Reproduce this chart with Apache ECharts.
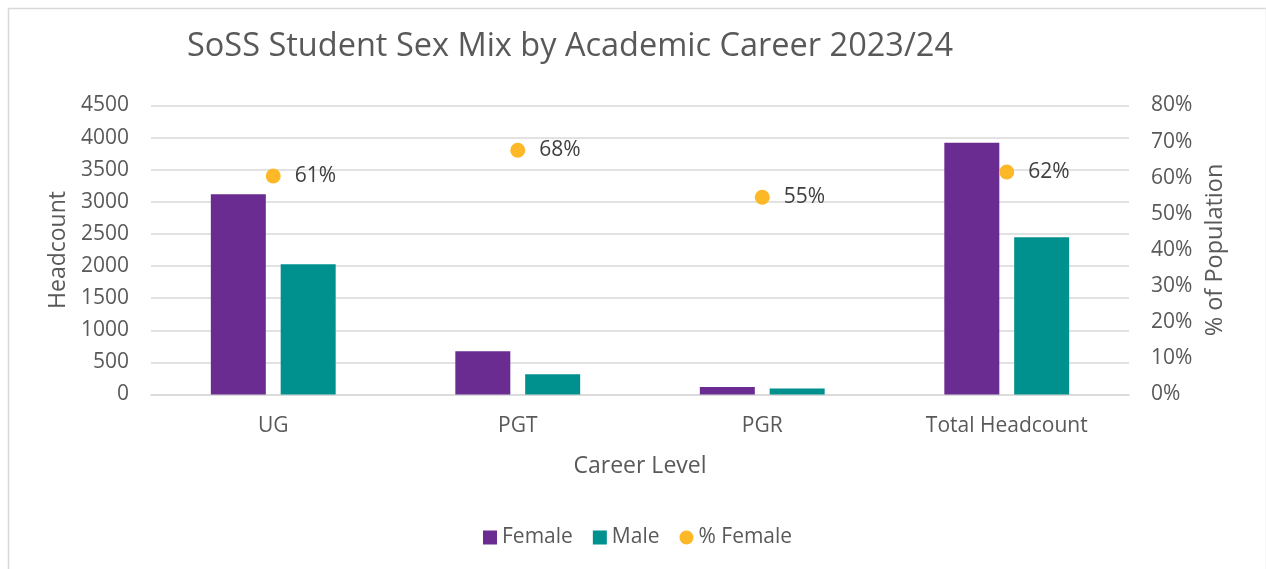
<!DOCTYPE html>
<html>
<head>
<meta charset="utf-8">
<script src="https://cdn.jsdelivr.net/npm/echarts@6/dist/echarts.min.js"></script>
<style>
html,body{margin:0;padding:0;background:#fff;}
#chart{width:1266px;height:569px;}
</style>
</head>
<body>
<div id="chart"></div>
<script>
const categories = ['UG', 'PGT', 'PGR', 'Total Headcount'];
const female = [3120, 675, 115, 3920];
const male = [2030, 317, 94, 2450];
const pctFemale = [0.605, 0.676, 0.546, 0.616];
const leftTicks = [0, 4500, 500];
const rightTicks = [0, 0.8, 0.1];

const FONT = '"Open Sans", sans-serif';
const TXT = '#595959';

const chart = echarts.init(document.getElementById('chart'), null, {renderer: 'canvas'});
chart.setOption({
  animation: false,
  backgroundColor: '#fff',
  textStyle: {fontFamily: FONT},
  graphic: [{
    type: 'rect', left: 6, top: 6,
    shape: {width: 1258, height: 600},
    style: {fill: 'none', stroke: '#d9d9d9', lineWidth: 1.5},
    silent: true, z: -1
  }],
  title: {
    text: 'SoSS Student Sex Mix by Academic Career 2023/24',
    left: 182, top: 25,
    textStyle: {fontFamily: FONT, fontSize: 32.5, fontWeight: 'normal', color: TXT}
  },
  legend: {
    bottom: 16, left: 478,
    itemWidth: 14, itemHeight: 14, itemGap: 20,
    textStyle: {fontFamily: FONT, fontSize: 21, color: TXT},
    data: [
      {name: 'Female', icon: 'rect'},
      {name: 'Male', icon: 'rect'},
      {name: '% Female', icon: 'circle'}
    ]
  },
  grid: {left: 151, right: 137, top: 105.5, bottom: 174.5, containLabel: false},
  xAxis: {
    type: 'category', data: categories,
    name: 'Career Level', nameLocation: 'middle', nameGap: 60,
    nameTextStyle: {fontFamily: FONT, fontSize: 23, color: TXT},
    axisLine: {show: true, lineStyle: {color: '#d9d9d9', width: 1.5}},
    axisTick: {show: false},
    axisLabel: {fontFamily: FONT, fontSize: 21, color: TXT, margin: 21}
  },
  yAxis: [{
    type: 'value', min: leftTicks[0], max: leftTicks[1], interval: leftTicks[2],
    name: 'Headcount', nameLocation: 'middle', nameGap: 78, nameRotate: 90,
    nameTextStyle: {fontFamily: FONT, fontSize: 23, color: TXT},
    axisLine: {show: false}, axisTick: {show: false},
    axisLabel: {fontFamily: FONT, fontSize: 21, color: TXT, margin: 22,
      formatter: v => String(v)},
    splitLine: {lineStyle: {color: '#d9d9d9', width: 1.5}}
  }, {
    type: 'value', min: rightTicks[0], max: rightTicks[1], interval: rightTicks[2],
    name: '% of Population', nameLocation: 'middle', nameGap: 74, nameRotate: 90,
    nameTextStyle: {fontFamily: FONT, fontSize: 23.5, color: TXT},
    axisLine: {show: false}, axisTick: {show: false},
    axisLabel: {fontFamily: FONT, fontSize: 21, color: TXT, margin: 22,
      formatter: v => Math.round(v * 100) + '%'},
    splitLine: {show: false}
  }],
  series: [{
    name: 'Female', type: 'bar', data: female,
    barWidth: 55, barGap: '27%',
    itemStyle: {color: '#6A2C91'}
  }, {
    name: 'Male', type: 'bar', data: male,
    barWidth: 55,
    itemStyle: {color: '#00918F'}
  }, {
    name: '% Female', type: 'scatter', yAxisIndex: 1, data: pctFemale,
    symbol: 'circle', symbolSize: 15,
    itemStyle: {color: '#FDB827', opacity: 1},
    label: {show: true, position: 'right', distance: 14,
      fontFamily: FONT, fontSize: 21, color: '#404040',
      formatter: p => Math.round(p.value * 100) + '%'},
    z: 5
  }]
});
</script>
</body>
</html>
